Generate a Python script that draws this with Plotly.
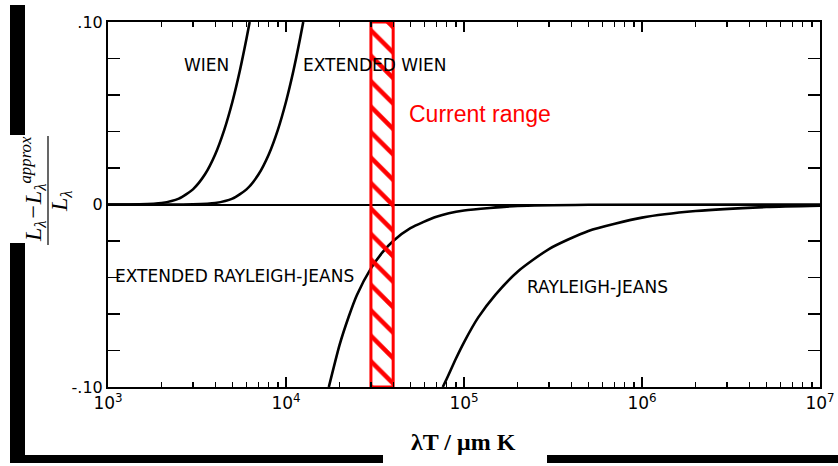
import plotly.graph_objects as go

# ---- data ----
wien_x = [1000, 1500, 2000, 2500, 3000, 3500, 4000, 4500, 5000, 5500, 6000, 6250]
wien_y = [0.0, 0.0001, 0.0008, 0.0032, 0.0083, 0.0164, 0.0274, 0.0409, 0.0563, 0.0731, 0.0909, 0.100]

ext_wien_x = [1000, 3000, 4000, 5000, 6000, 7000, 8000, 9000, 10000, 11000, 12000, 12500]
ext_wien_y = [0.0, 0.0001, 0.0008, 0.0032, 0.0083, 0.0164, 0.0274, 0.0409, 0.0563, 0.0731, 0.0909, 0.100]

rj_x = [76000, 80000, 90000, 100000, 120000, 150000, 200000, 300000, 500000, 1000000, 2000000, 5000000, 10000000]
rj_y = [-0.100, -0.0955, -0.0845, -0.0755, -0.0620, -0.0495, -0.0368, -0.0244, -0.0145, -0.0072, -0.0036, -0.0014, -0.0007]

ext_rj_x = [17400, 20000, 22500, 25000, 30000, 35000, 40000, 50000, 70000, 100000, 200000, 500000, 10000000]
ext_rj_y = [-0.100, -0.0769, -0.0615, -0.0497, -0.0350, -0.0260, -0.0200, -0.0130, -0.0067, -0.0033, -0.0008, -0.0001, 0.0]

current_range = [30000, 40000]
y_limits = [-0.10, 0.10]

x_tick_vals = [1e3, 1e4, 1e5, 1e6, 1e7]
x_tick_text = ["10<sup>3</sup>", "10<sup>4</sup>", "10<sup>5</sup>", "10<sup>6</sup>", "10<sup>7</sup>"]
y_tick_vals = [-0.10, 0.0, 0.10]
y_tick_text = ["-.10", "0", ".10"]
y_minor_vals = [-0.08, -0.06, -0.04, -0.02, 0.02, 0.04, 0.06, 0.08]

curve_labels = ["WIEN", "EXTENDED WIEN", "EXTENDED RAYLEIGH-JEANS", "RAYLEIGH-JEANS"]

# ---- layout geometry (page pixels; body margin removed below) ----
W, H = 838, 466
PL, PR, PT, PB = 108, 820, 22, 387
PW, PH = PR - PL, PB - PT
L, T, R, B = PL, PT, W - PR, H - PB


def px(x):
    return (x - PL) / PW


def py(y):
    return (PB - y) / PH


minor_x = [m * 10 ** e for e in range(3, 7) for m in range(2, 10)]

fig = go.Figure()

line_style = dict(color="black", width=2.6, shape="spline", smoothing=0.6)
for xs, ys in [(wien_x, wien_y), (ext_wien_x, ext_wien_y), (rj_x, rj_y), (ext_rj_x, ext_rj_y)]:
    fig.add_trace(go.Scatter(x=xs, y=ys, mode="lines", line=line_style,
                             hoverinfo="skip", showlegend=False))

# current range hatched band
x0, x1 = current_range
fig.add_trace(go.Scatter(
    x=[x0, x1, x1, x0, x0], y=[y_limits[0], y_limits[0], y_limits[1], y_limits[1], y_limits[0]],
    mode="lines", fill="toself", fillcolor="rgba(255,255,255,0)",
    fillpattern=dict(shape="\\", fgcolor="#ff0000", bgcolor="rgba(255,255,255,0)",
                     fgopacity=1, size=18, solidity=0.25),
    line=dict(color="#ff0000", width=3), hoverinfo="skip", showlegend=False))

lab_font = dict(family="DejaVu Sans", size=17, color="black")
annots = [
    dict(x=3.556, y=0.0765, text=curve_labels[0]),
    dict(x=4.50, y=0.0765, text=curve_labels[1]),
    dict(x=3.708, y=-0.0393, text=curve_labels[2]),
    dict(x=5.75, y=-0.0454, text=curve_labels[3]),
]
for a in annots:
    fig.add_annotation(x=a["x"], y=a["y"], text=a["text"], showarrow=False,
                       xref="x", yref="y", font=lab_font, xanchor="center", yanchor="middle")

fig.add_annotation(x=4.68, y=0.0497, text="Current range", showarrow=False, xref="x", yref="y",
                   xanchor="left", yanchor="middle",
                   font=dict(family="Liberation Sans", size=23, color="#ff0000"))

# axis titles
fig.add_annotation(x=px(463), y=py(442), xref="paper", yref="paper", showarrow=False,
                   text="<b>λT / μm K</b>", xanchor="center", yanchor="middle",
                   font=dict(family="Liberation Serif", size=24, color="black"))
fig.add_annotation(x=px(33), y=py(189), xref="paper", yref="paper", showarrow=False,
                   text="<i>L<sub>λ</sub>−L<sub>λ</sub><sup>approx</sup></i>", textangle=-90,
                   xanchor="center", yanchor="middle",
                   font=dict(family="Liberation Serif", size=24, color="black"))
fig.add_annotation(x=px(61), y=py(201), xref="paper", yref="paper", showarrow=False,
                   text="<i>L<sub>λ</sub></i>", textangle=-90,
                   xanchor="center", yanchor="middle",
                   font=dict(family="Liberation Serif", size=24, color="black"))
fig.add_shape(type="line", xref="paper", yref="paper", x0=px(48), x1=px(48), y0=py(136), y1=py(245),
              line=dict(color="black", width=1.2))

# black scan-border bars (page pixels)
bars = [(10, 5, 25, 135), (10, 243, 25, 463), (10, 455, 383, 463), (547, 455, 838, 463)]
for bx0, by0, bx1, by1 in bars:
    fig.add_shape(type="rect", xref="paper", yref="paper", x0=px(bx0), x1=px(bx1),
                  y0=py(by1), y1=py(by0), fillcolor="black", line=dict(width=0), layer="above")

tick_font = dict(family="DejaVu Sans", size=17, color="black")
fig.update_layout(
    width=W, height=H, margin=dict(l=L, r=R, t=T, b=B, pad=0, autoexpand=False),
    plot_bgcolor="white", paper_bgcolor="white", showlegend=False,
    xaxis=dict(type="log", range=[3, 7], showline=True, linecolor="black", linewidth=2,
               mirror="ticks", ticks="inside", ticklen=10, tickwidth=1.5, tickcolor="black",
               tickvals=x_tick_vals, ticktext=x_tick_text, showgrid=False, zeroline=False,
               tickfont=tick_font, automargin=False,
               minor=dict(tickvals=minor_x, ticks="inside", ticklen=5, tickwidth=1.3,
                          tickcolor="black", showgrid=False)),
    yaxis=dict(range=y_limits, showline=True, linecolor="black", linewidth=2,
               mirror="ticks", ticks="inside", ticklen=12, tickwidth=1.5, tickcolor="black",
               tickvals=y_tick_vals, ticktext=y_tick_text, showgrid=False,
               zeroline=True, zerolinecolor="black", zerolinewidth=2, automargin=False,
               tickfont=dict(family="DejaVu Sans", size=16, color="black"),
               minor=dict(tickvals=y_minor_vals, ticks="inside", ticklen=12, tickwidth=1.5,
                          tickcolor="black", showgrid=False)),
)

fig.write_html("out.html", config={"displayModeBar": False, "staticPlot": True},
               post_script="document.body.style.margin='0';document.body.style.overflow='hidden';")
